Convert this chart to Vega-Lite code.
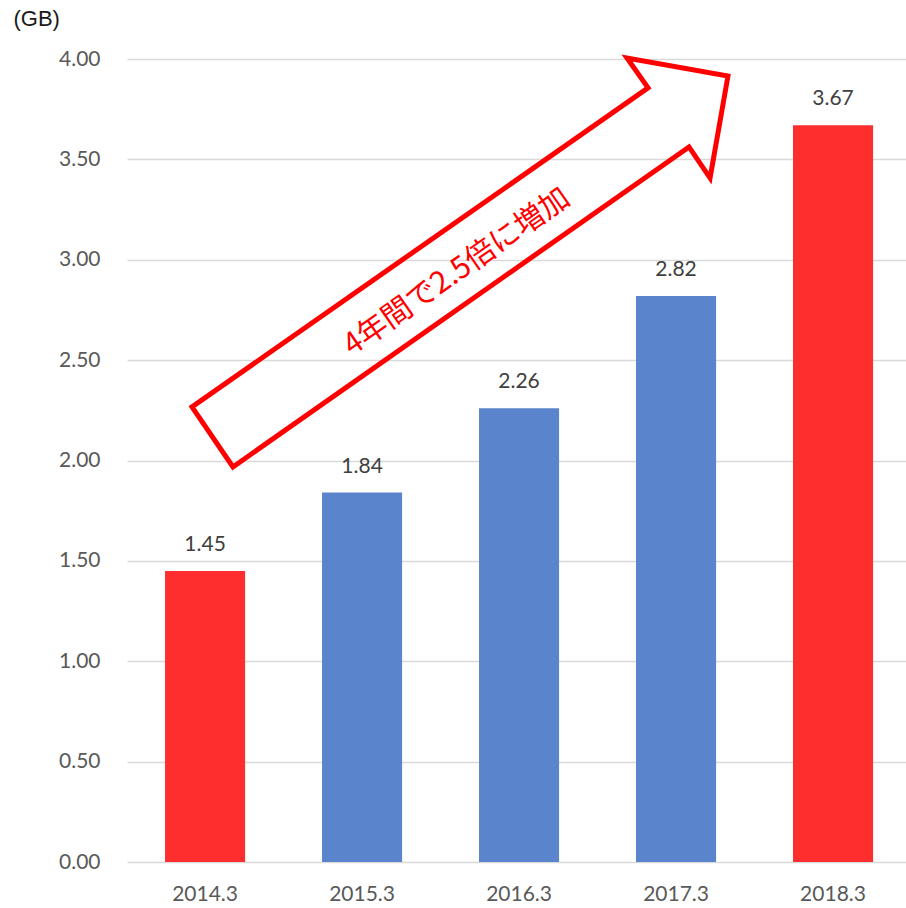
{
  "$schema": "https://vega.github.io/schema/vega-lite/v6.json",
  "autosize": "none",
  "width": 779,
  "height": 803,
  "padding": {"left": 127, "top": 59, "right": 0, "bottom": 46},
  "background": "white",
  "config": {"view": {"stroke": null}},
  "datasets": {
    "bars": [
      {"year": "2014.3", "gb": 1.45, "group": "end"},
      {"year": "2015.3", "gb": 1.84, "group": "mid"},
      {"year": "2016.3", "gb": 2.26, "group": "mid"},
      {"year": "2017.3", "gb": 2.82, "group": "mid"},
      {"year": "2018.3", "gb": 3.67, "group": "end"}
    ],
    "arrow": [
      {"i": 1, "xi": -0.083, "gb": 2.267},
      {"i": 2, "xi": 0.178, "gb": 1.968},
      {"i": 3, "xi": 3.083, "gb": 3.562},
      {"i": 4, "xi": 3.217, "gb": 3.407},
      {"i": 5, "xi": 3.331, "gb": 3.915},
      {"i": 6, "xi": 2.688, "gb": 4.005},
      {"i": 7, "xi": 2.822, "gb": 3.856}
    ],
    "note": [
      {"xi": 1.605, "gb": 2.939, "label": "4年間で2.5倍に増加"}
    ]
  },
  "layer": [
    {
      "data": {"name": "bars"},
      "encoding": {
        "x": {
          "field": "year", "type": "nominal", "sort": null,
          "scale": {"paddingInner": 0.49, "paddingOuter": 0.226, "align": 0.536},
          "axis": {
            "title": null, "labelAngle": 0, "ticks": false, "domain": false,
            "labelPadding": 21, "labelFont": "Lato", "labelFontSize": 21,
            "labelColor": "#595959", "grid": false
          }
        },
        "y": {
          "field": "gb", "type": "quantitative",
          "scale": {"domain": [0, 4], "nice": false},
          "axis": {
            "values": [0, 0.5, 1, 1.5, 2, 2.5, 3, 3.5, 4],
            "format": ".2f", "ticks": false, "domain": false,
            "labelPadding": 27, "labelFont": "Lato", "labelFontSize": 21,
            "labelColor": "#595959", "gridColor": "#D9D9D9", "gridWidth": 1.6,
            "title": "(GB)", "titleAngle": 0, "titleAlign": "left",
            "titleBaseline": "middle", "titleX": -114, "titleY": -41,
            "titleFont": "Liberation Sans", "titleFontSize": 22,
            "titleFontWeight": "normal", "titleColor": "#1a1a1a"
          }
        }
      },
      "layer": [
        {
          "mark": {"type": "bar"},
          "encoding": {
            "color": {
              "field": "group", "type": "nominal",
              "scale": {"domain": ["end", "mid"], "range": ["#FF2E2E", "#5A84CC"]},
              "legend": null
            }
          }
        },
        {
          "mark": {"type": "text", "baseline": "middle", "dy": -26, "font": "Lato", "fontSize": 21, "color": "#404040"},
          "encoding": {"text": {"field": "gb", "type": "quantitative", "format": ".2f"}}
        }
      ]
    },
    {
      "layer": [
        {
          "data": {"name": "arrow"},
          "mark": {"type": "line", "interpolate": "linear-closed", "stroke": "#FF0000", "strokeWidth": 5, "strokeJoin": "miter", "strokeMiterLimit": 10},
          "encoding": {
            "x": {"field": "xi", "type": "quantitative", "scale": {"domain": [-0.4968, 4.465], "nice": false, "zero": false}, "axis": null},
            "y": {"field": "gb", "type": "quantitative", "scale": {"domain": [0, 4], "nice": false}, "axis": null},
            "order": {"field": "i", "type": "quantitative"}
          }
        },
        {
          "data": {"name": "note"},
          "mark": {"type": "text", "angle": -35, "align": "center", "baseline": "middle", "font": "Noto Sans CJK JP", "fontSize": 30, "color": "#FF0000"},
          "encoding": {
            "x": {"field": "xi", "type": "quantitative", "scale": {"domain": [-0.4968, 4.465], "nice": false, "zero": false}, "axis": null},
            "y": {"field": "gb", "type": "quantitative", "scale": {"domain": [0, 4], "nice": false}, "axis": null},
            "text": {"field": "label"}
          }
        }
      ]
    }
  ],
  "resolve": {"scale": {"x": "independent"}, "axis": {"x": "independent", "y": "independent"}}
}
